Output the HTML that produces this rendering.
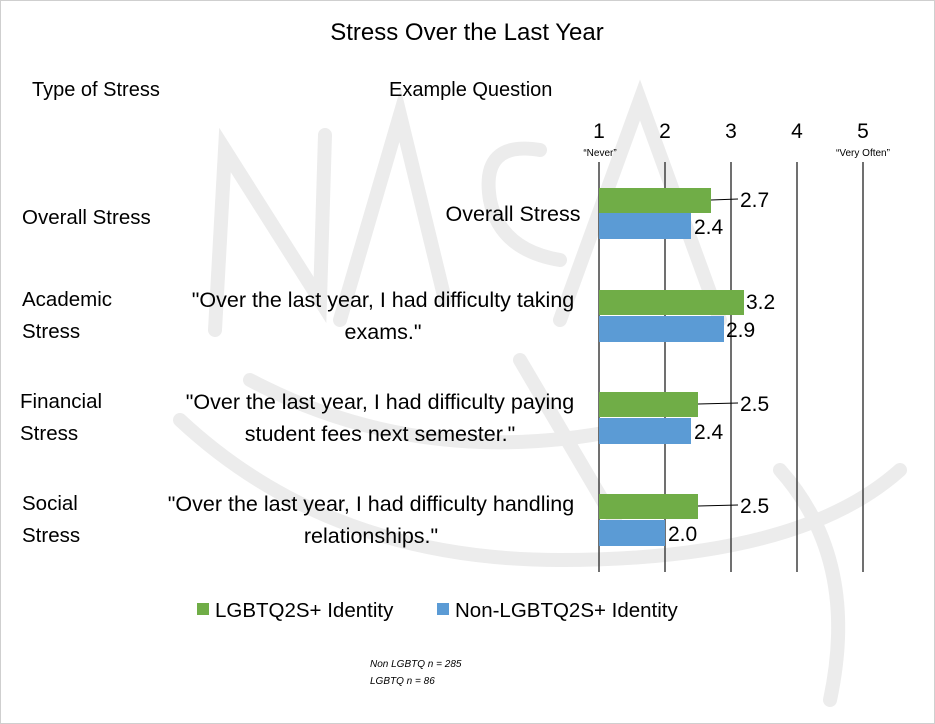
<!DOCTYPE html>
<html><head><style>
body{margin:0;background:#fff;}
svg{display:block;font-family:"Liberation Sans",sans-serif;}
</style></head><body>
<svg width="935" height="724" viewBox="0 0 935 724">
<rect x="0.5" y="0.5" width="934" height="723" fill="#fff" stroke="#cfcfcf"/>
<!-- watermark -->
<g fill="none" stroke="#ececec" stroke-width="14" stroke-linecap="round">
<path d="M215 330 L225 150 L320 300 L325 135"/>
<path d="M340 320 L400 115 L445 300"/>
<path d="M540 150 Q480 140 490 200 Q500 250 560 260"/>
<path d="M560 320 L640 100 L720 320"/>
<path d="M180 420 Q330 560 560 560 Q800 560 900 470"/>
<path d="M250 380 Q420 470 620 430"/>
<path d="M780 470 Q860 560 830 700"/>
<path d="M520 360 L620 530"/>
</g>
<text x="467" y="40" font-size="24" text-anchor="middle" fill="#000">Stress Over the Last Year</text>
<text x="32" y="96" font-size="20">Type of Stress</text>
<text x="389" y="96" font-size="20">Example Question</text>
<g font-size="21" text-anchor="middle">
<text x="599" y="138">1</text><text x="665" y="138">2</text><text x="731" y="138">3</text><text x="797" y="138">4</text><text x="863" y="138">5</text>
</g>
<text x="600" y="156" font-size="10" text-anchor="middle">“Never”</text>
<text x="863" y="156" font-size="10" text-anchor="middle">“Very Often”</text>
<g stroke="#404040" stroke-width="1.5">
<line x1="599" y1="162" x2="599" y2="572"/><line x1="665" y1="162" x2="665" y2="572"/><line x1="731" y1="162" x2="731" y2="572"/><line x1="797" y1="162" x2="797" y2="572"/><line x1="863" y1="162" x2="863" y2="572"/>
</g>
<g fill="#70ad47">
<rect x="599" y="188" width="112" height="25"/>
<rect x="599" y="290" width="145" height="25"/>
<rect x="599" y="392" width="99" height="25"/>
<rect x="599" y="494" width="99" height="25"/>
</g>
<g fill="#5b9bd5">
<rect x="599" y="213" width="92" height="26"/>
<rect x="599" y="316" width="125" height="26"/>
<rect x="599" y="418" width="92" height="26"/>
<rect x="599" y="520" width="66" height="26"/>
</g>
<g stroke="#000" stroke-width="1">
<line x1="711" y1="200" x2="738" y2="199"/>
<line x1="698" y1="404" x2="738" y2="403"/>
<line x1="698" y1="506" x2="738" y2="505"/>
</g>
<g font-size="21">
<text x="740" y="207">2.7</text><text x="694" y="234">2.4</text>
<text x="746" y="309">3.2</text><text x="726" y="337">2.9</text>
<text x="740" y="411">2.5</text><text x="694" y="439">2.4</text>
<text x="740" y="513">2.5</text><text x="668" y="541">2.0</text>
</g>
<g font-size="20.5">
<text x="22" y="224">Overall Stress</text>
<text x="22" y="306">Academic</text><text x="22" y="338">Stress</text>
<text x="20" y="408">Financial</text><text x="20" y="440">Stress</text>
<text x="22" y="510">Social</text><text x="22" y="542">Stress</text>
</g>
<g font-size="21.5" text-anchor="middle">
<text x="513" y="221">Overall Stress</text>
<text x="383" y="307">"Over the last year, I had difficulty taking</text>
<text x="383" y="339">exams."</text>
<text x="380" y="409">"Over the last year, I had difficulty paying</text>
<text x="380" y="441">student fees next semester."</text>
<text x="371" y="511">"Over the last year, I had difficulty handling</text>
<text x="371" y="543">relationships."</text>
</g>
<rect x="197" y="603" width="12" height="12" fill="#70ad47"/>
<text x="215" y="617" font-size="20.5">LGBTQ2S+ Identity</text>
<rect x="437" y="603" width="12" height="12" fill="#5b9bd5"/>
<text x="455" y="617" font-size="20.5">Non-LGBTQ2S+ Identity</text>
<text x="370" y="667" font-size="10" font-style="italic">Non LGBTQ n = 285</text>
<text x="370" y="684" font-size="10" font-style="italic">LGBTQ n = 86</text>
</svg>
</body></html>
